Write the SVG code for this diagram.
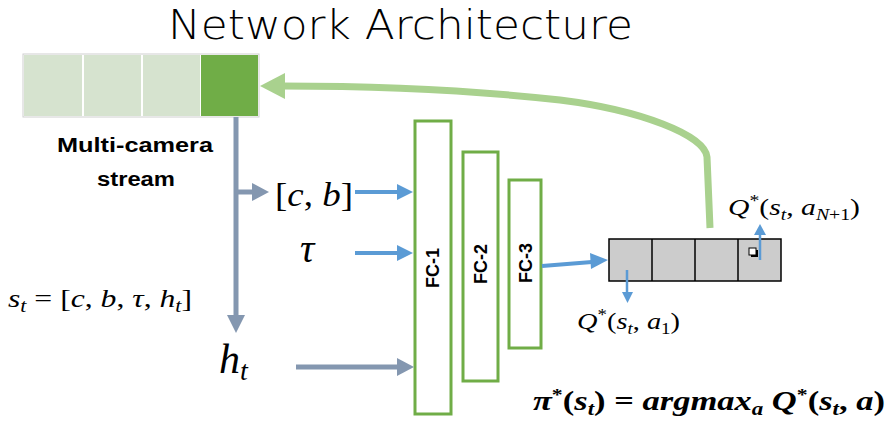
<svg xmlns="http://www.w3.org/2000/svg" width="890" height="423" viewBox="0 0 890 423">
<style>
.title{font-family:"DejaVu Sans","Open Sans",sans-serif;font-weight:200;font-size:41px;fill:#000}
.lbl{font-family:"Liberation Sans",Arial,sans-serif;font-weight:bold;fill:#000}
.math{font-family:"Liberation Serif","DejaVu Serif",serif;fill:#000}
.it{font-style:italic}
.fc{fill:#fff;stroke:#70ad47;stroke-width:3}
.gray{stroke:#8497b0;stroke-width:5;fill:none}
.blue{stroke:#5b9bd5;stroke-width:4;fill:none}
.bluet{stroke:#5b9bd5;stroke-width:2.5;fill:none}
</style>
<rect width="890" height="423" fill="#fff"/>
<text class="title" x="168" y="39" textLength="465" lengthAdjust="spacingAndGlyphs">Network Architecture</text>

<g id="stream">
<rect x="23" y="54" width="236" height="63" fill="#fff" stroke="#d0d0d0" stroke-width="1"/>
<rect x="24" y="55" width="58" height="61" fill="#d6e3cf"/>
<rect x="84" y="55" width="57" height="61" fill="#d6e3cf"/>
<rect x="143" y="55" width="57" height="61" fill="#d6e3cf"/>
<rect x="201" y="55" width="57" height="61" fill="#70ad47"/>
<text class="lbl" x="57" y="152" font-size="20" textLength="156" lengthAdjust="spacingAndGlyphs">Multi-camera</text>
<text class="lbl" x="97" y="186" font-size="20" textLength="78" lengthAdjust="spacingAndGlyphs">stream</text>
</g>

<g id="state">
<text class="math" x="8" y="307" font-size="26" textLength="184" lengthAdjust="spacingAndGlyphs"><tspan class="it">s</tspan><tspan class="it" font-size="18" dy="5">t</tspan><tspan dy="-5"> = [</tspan><tspan class="it">c</tspan>, <tspan class="it">b</tspan>, <tspan class="it">τ</tspan>, <tspan class="it">h</tspan><tspan class="it" font-size="18" dy="5">t</tspan><tspan dy="-5">]</tspan></text>
</g>

<g id="cb"><text class="math" x="275" y="206" font-size="34" textLength="78" lengthAdjust="spacingAndGlyphs">[<tspan class="it">c</tspan>, <tspan class="it">b</tspan>]</text></g>
<g id="tau"><text class="math it" x="300" y="262" font-size="40">τ</text></g>
<g id="ht"><text class="math it" x="219" y="373" font-size="42">h<tspan font-size="28" dy="7">t</tspan></text></g>

<g id="fc1"><rect class="fc" x="415" y="121" width="36" height="293"/>
<text class="lbl" font-size="18" text-anchor="middle" transform="translate(439 268) rotate(-90)">FC-1</text></g>
<g id="fc2"><rect class="fc" x="463" y="152" width="35" height="229"/>
<text class="lbl" font-size="18" text-anchor="middle" transform="translate(487 264) rotate(-90)">FC-2</text></g>
<g id="fc3"><rect class="fc" x="509" y="180" width="32" height="168"/>
<text class="lbl" font-size="18" text-anchor="middle" transform="translate(532 263) rotate(-90)">FC-3</text></g>

<g id="output">
<rect x="609" y="239" width="172" height="42" fill="#cccccc" stroke="#000" stroke-width="1.5"/>
<line x1="652" y1="239" x2="652" y2="281" stroke="#000" stroke-width="1.5"/>
<line x1="695" y1="239" x2="695" y2="281" stroke="#000" stroke-width="1.5"/>
<line x1="738" y1="239" x2="738" y2="281" stroke="#000" stroke-width="1.5"/>
<rect x="751" y="250" width="7" height="7" fill="#000"/>
<rect x="749" y="248" width="7" height="7" fill="#fff" stroke="#000" stroke-width="1"/>
<text class="math" x="577" y="329" font-size="24" textLength="103" lengthAdjust="spacingAndGlyphs"><tspan class="it">Q</tspan><tspan font-size="16" dy="-9">*</tspan><tspan dy="9">(</tspan><tspan class="it">s</tspan><tspan class="it" font-size="16" dy="5">t</tspan><tspan dy="-5">, </tspan><tspan class="it">a</tspan><tspan font-size="16" dy="5">1</tspan><tspan dy="-5">)</tspan></text>
<text class="math" x="728" y="215" font-size="24" textLength="132" lengthAdjust="spacingAndGlyphs"><tspan class="it">Q</tspan><tspan font-size="16" dy="-9">*</tspan><tspan dy="9">(</tspan><tspan class="it">s</tspan><tspan class="it" font-size="16" dy="5">t</tspan><tspan dy="-5">, </tspan><tspan class="it">a</tspan><tspan font-size="16" dy="5"><tspan class="it">N</tspan>+1</tspan><tspan dy="-5">)</tspan></text>
</g>

<g id="policy">
<text class="math it" x="533" y="410" font-size="27" font-weight="bold" textLength="352" lengthAdjust="spacingAndGlyphs">π<tspan font-size="17" dy="-10" font-style="normal">*</tspan><tspan dy="10" font-style="normal">(</tspan>s<tspan font-size="18" dy="5">t</tspan><tspan dy="-5" font-style="normal">) = </tspan>argmax<tspan font-size="18" dy="5">a</tspan><tspan dy="-5"> Q</tspan><tspan font-size="17" dy="-10" font-style="normal">*</tspan><tspan dy="10" font-style="normal">(</tspan>s<tspan font-size="18" dy="5">t</tspan><tspan dy="-5" font-style="normal">, </tspan>a<tspan font-style="normal">)</tspan></text>
</g>

<g id="connectors">
<path class="gray" d="M236 117 V316"/>
<polygon points="227,315 245,315 236,333" fill="#8497b0"/>
<path class="gray" d="M236 192 H253"/>
<polygon points="252,183 252,201 269,192" fill="#8497b0"/>
<path class="gray" d="M296 367 H398"/>
<polygon points="397,358 397,376 414,367" fill="#8497b0"/>
<path class="blue" d="M355 192 H398"/>
<polygon points="397,184 397,200 413,192" fill="#5b9bd5"/>
<path class="blue" d="M355 253 H398"/>
<polygon points="397,245 397,261 413,253" fill="#5b9bd5"/>
<path class="blue" d="M542 266 L592 262"/>
<polygon points="590,253 591,269 608,260" fill="#5b9bd5"/>
<path class="bluet" d="M627 270 V294"/>
<polygon points="622,292 633,292 627.5,303" fill="#5b9bd5"/>
<path class="bluet" d="M760 260 V233"/>
<polygon points="754,235 766,235 760,224" fill="#5b9bd5"/>
<path d="M710 228 L707 157 C705 135 640 110 560 100 C470 90 380 86 282 86" fill="none" stroke="#a9d18e" stroke-width="7"/>
<polygon points="260,86 285,73 285,99" fill="#a9d18e"/>
</g>
</svg>
